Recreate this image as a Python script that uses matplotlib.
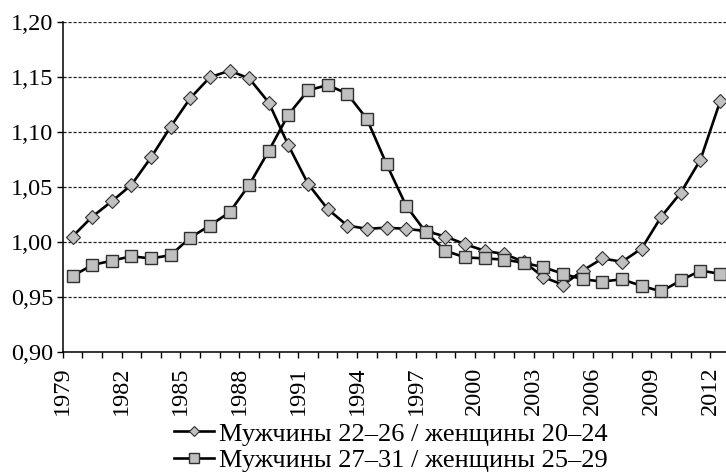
import matplotlib
matplotlib.use('Agg')
import matplotlib.pyplot as plt
from matplotlib.ticker import FuncFormatter, MultipleLocator
import numpy as np

plt.rcParams['font.family'] = ['Liberation Serif', 'DejaVu Serif']

years = list(range(1979, 2013))
ratio_22_26 = [1.005, 1.023, 1.037, 1.052, 1.077, 1.105, 1.131, 1.150, 1.156, 1.149,
               1.127, 1.088, 1.053, 1.030, 1.015, 1.012, 1.013, 1.012, 1.010, 1.005,
               0.998, 0.992, 0.989, 0.982, 0.968, 0.961, 0.974, 0.985, 0.982, 0.994,
               1.023, 1.045, 1.075, 1.128]
ratio_27_31 = [0.969, 0.979, 0.983, 0.987, 0.985, 0.988, 1.004, 1.015, 1.027, 1.052,
               1.083, 1.116, 1.138, 1.143, 1.135, 1.112, 1.071, 1.033, 1.009, 0.992,
               0.986, 0.985, 0.984, 0.981, 0.977, 0.971, 0.966, 0.964, 0.966, 0.960,
               0.955, 0.965, 0.974, 0.971]
label_1 = 'Мужчины 22–26 / женщины 20–24'
label_2 = 'Мужчины 27–31 / женщины 25–29'

fig = plt.figure(figsize=(7.26, 4.74), dpi=100)
ax = fig.add_axes([0.0864, 0.2578, 0.919, 0.695])

x = np.arange(len(years)) + 0.5
ax.plot(x, ratio_22_26, color='black', lw=1.9, marker='D', ms=6.8,
        mfc='#c0c0c0', mec='#303030', mew=0.8, label=label_1, zorder=3)
ax.plot(x, ratio_27_31, color='black', lw=1.9, marker='s', ms=9,
        mfc='#c0c0c0', mec='#303030', mew=1.0, label=label_2, zorder=3)

ax.set_xlim(0, len(years))
ax.set_ylim(0.90, 1.20)
ax.yaxis.set_major_locator(MultipleLocator(0.05))
ax.yaxis.set_major_formatter(FuncFormatter(lambda v, p: f'{v:.2f}'.replace('.', ',')))

ax.set_xticks(np.arange(0, len(years) + 1), minor=True)
ax.set_xticks(np.arange(0, len(years), 3))
ax.set_xticklabels([str(years[i]) for i in range(0, len(years), 3)], rotation=90)
ax.tick_params(axis='x', which='both', direction='out', length=4.5, width=1, pad=6)
ax.tick_params(axis='y', direction='out', length=4, width=1, pad=3)
ax.tick_params(labelsize=17.5)

ax.grid(axis='y', linestyle=(0, (2.5, 1.5)), color='#202020', lw=0.9)
for s in ['top', 'right']:
    ax.spines[s].set_visible(False)
for s in ['left', 'bottom']:
    ax.spines[s].set_linewidth(1.1)

fig.legend(loc='center', bbox_to_anchor=(391 / 726, 1 - 447 / 474), frameon=False,
           fontsize=19, handlelength=1.5, handletextpad=0.2, labelspacing=0.1,
           markerscale=0.75)

fig.savefig('out.png', dpi=100)
